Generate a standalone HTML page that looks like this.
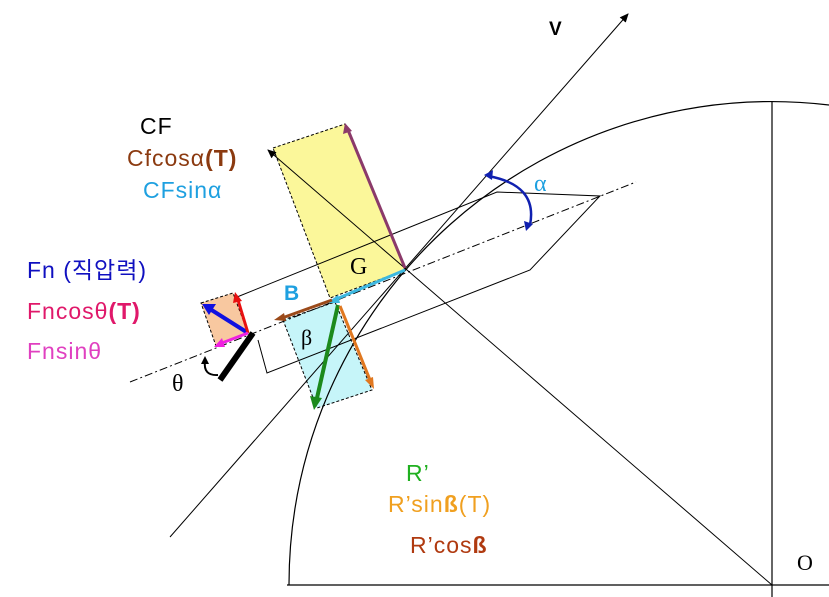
<!DOCTYPE html>
<html><head><meta charset="utf-8"><style>
html,body{margin:0;padding:0;background:#fff;width:829px;height:597px;overflow:hidden}
svg{display:block}
.s{font-family:"Liberation Sans","Noto Sans CJK KR",sans-serif}
.r{font-family:"Liberation Serif",serif}
</style></head><body>
<svg width="829" height="597" viewBox="0 0 829 597" xmlns="http://www.w3.org/2000/svg">
<defs>
<marker id="ak" markerWidth="10" markerHeight="10" refX="8" refY="5" orient="auto" markerUnits="userSpaceOnUse"><path d="M0,1 L9,5 L0,9 z" fill="#000"/></marker>
</defs>
<polygon points="273,148 345,124 405,270 330,298" fill="#fbf79a" stroke="#000" stroke-dasharray="3,2" stroke-width="1"/>
<polygon points="283,320 335,302 372,390 317,408" fill="#c6f5f9" stroke="#000" stroke-dasharray="3,2" stroke-width="1"/>
<polygon points="201,303 233,293 248,333 216,346" fill="#f8c8a0" stroke="#000" stroke-dasharray="3,2" stroke-width="1"/>
<path d="M289,585 A483,483 0 0 1 829,105" fill="none" stroke="#000" stroke-width="1.2"/>
<line x1="287" y1="585" x2="829" y2="585" stroke="#000" stroke-width="1.2"/>
<line x1="772" y1="102" x2="772" y2="597" stroke="#000" stroke-width="1.2"/>
<line x1="170" y1="537" x2="628" y2="14" stroke="#000" stroke-width="1" marker-end="url(#ak)"/>
<line x1="772" y1="585" x2="268" y2="150" stroke="#000" stroke-width="1" marker-end="url(#ak)"/>
<line x1="130" y1="382" x2="636" y2="182" stroke="#000" stroke-width="1" stroke-dasharray="8,3,2,3"/>
<polyline points="237,297 497,192 600,196 530,270 267,373 258,340" fill="none" stroke="#000" stroke-width="1"/>
<line x1="405" y1="268" x2="348" y2="130" stroke="#8b3a6a" stroke-width="3"/>
<polygon points="345,123 343,134 352,131" fill="#8b3a6a"/>
<line x1="405" y1="270" x2="334" y2="300" stroke="#3cb8e0" stroke-width="3"/>
<polygon points="327,303 338,295 340,303" fill="#3cb8e0"/>
<line x1="332" y1="300" x2="282" y2="318" stroke="#9b4a1a" stroke-width="3"/>
<polygon points="274,320 284,313 286,321" fill="#9b4a1a"/>
<line x1="338" y1="305" x2="317" y2="398" stroke="#1c8a1c" stroke-width="4"/>
<polygon points="314,410 310,396 322,398" fill="#1c8a1c"/>
<line x1="340" y1="306" x2="370" y2="380" stroke="#e07820" stroke-width="3"/>
<polygon points="374,389 365,380 373,377" fill="#e07820"/>
<line x1="248" y1="333" x2="210" y2="309" stroke="#1010e0" stroke-width="4"/>
<polygon points="202,304 216,304 209,315" fill="#1010e0"/>
<line x1="248" y1="333" x2="238" y2="300" stroke="#e81010" stroke-width="3"/>
<polygon points="235,292 233,303 242,301" fill="#e81010"/>
<line x1="248" y1="333" x2="222" y2="343" stroke="#f020e0" stroke-width="3"/>
<polygon points="214,347 222,338 225,347" fill="#f020e0"/>
<line x1="253" y1="333" x2="220" y2="380" stroke="#000" stroke-width="6"/>
<path d="M218,375 Q203,376 205,361" fill="none" stroke="#000" stroke-width="2"/>
<polygon points="205,356 201,364 209,364" fill="#000"/>
<path d="M488,176 Q538,185 530,225" fill="none" stroke="#1020b0" stroke-width="2.5"/>
<polygon points="484,175 493,170 492,180" fill="#1020b0"/>
<polygon points="526,231 524,221 533,224" fill="#1020b0"/>
<g class="s" font-size="23" letter-spacing="1">
<text x="140" y="134" fill="#000">CF</text>
<text x="127" y="166" fill="#8b3a10">Cfcos&#945;<tspan font-weight="bold">(T)</tspan></text>
<text x="143" y="198" fill="#1ea0e0">CFsin&#945;</text>
<text x="27" y="278" fill="#1010c0">Fn (직압력)</text>
<text x="27" y="319" fill="#e0186a">Fncos&#952;<tspan font-weight="bold">(T)</tspan></text>
<text x="27" y="359" fill="#e040c0">Fnsin&#952;</text>
<text x="406" y="481" fill="#20b020">R’</text>
<text x="388" y="512" fill="#f0a020">R’sin<tspan font-weight="bold">ß</tspan>(T)</text>
<text x="410" y="553" fill="#b03a10">R’cos<tspan font-weight="bold">ß</tspan></text>
</g>
<text class="r" x="172" y="391" font-size="24" fill="#000">&#952;</text>
<text class="s" x="284" y="300" font-size="21" font-weight="bold" fill="#1ea0e0">B</text>
<text class="r" x="350" y="274" font-size="24" fill="#000">G</text>
<text class="r" x="301" y="345" font-size="22" fill="#000">&#946;</text>
<text class="s" x="549" y="35" font-size="19" font-weight="bold" fill="#000">V</text>
<text class="r" x="534" y="191" font-size="24" fill="#1ea0e0">&#945;</text>
<text class="r" x="797" y="570" font-size="22" fill="#000">O</text>
</svg>
</body></html>
